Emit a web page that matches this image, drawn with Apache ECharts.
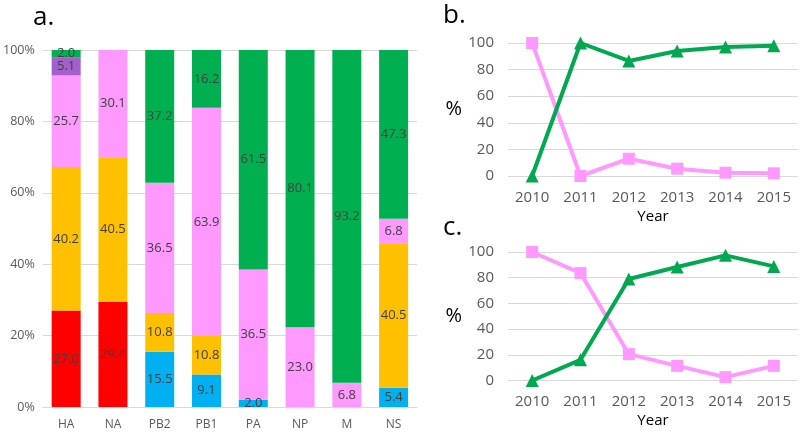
<!DOCTYPE html>
<html>
<head>
<meta charset="utf-8">
<script src="https://cdn.jsdelivr.net/npm/echarts@6/dist/echarts.min.js"></script>
<style>
  html, body { margin: 0; padding: 0; background: #fff; }
  #main { width: 800px; height: 433px; }
</style>
</head>
<body>
<div id="main"></div>
<script>
// panel a: segments, bottom to top
var genes = ['HA', 'NA', 'PB2', 'PB1', 'PA', 'NP', 'M', 'NS'];
var redVals    = [27.0, 29.4, null, null, null, null, null, null];
var blueVals   = [null, null, 15.5, 9.1, 2.0, null, null, 5.4];
var orangeVals = [40.2, 40.5, 10.8, 10.8, null, null, null, 40.5];
var pinkVals   = [25.7, 30.1, 36.5, 63.9, 36.5, 23.0, 6.8, 6.8];
var purpleVals = [5.1, null, null, null, null, null, null, null];
var greenVals  = [2.0, null, 37.2, 16.2, 61.5, 80.1, 93.2, 47.3];

// panels b and c
var years = ['2010', '2011', '2012', '2013', '2014', '2015'];
var bPink  = [100, 0, 13, 5.5, 2.5, 2];
var bGreen = [0, 100, 86.5, 94, 97, 98];
var cPink  = [100, 83.6, 20.5, 11.4, 2.6, 11.4];
var cGreen = [0, 16.1, 79, 88.3, 97.4, 88.8];

var segs = [
    {vals: redVals, color: '#FF0000'},
    {vals: blueVals, color: '#00B0F0'},
    {vals: orangeVals, color: '#FFC000'},
    {vals: pinkVals, color: '#FF99FF'},
    {vals: purpleVals, color: '#A35FCB'},
    {vals: greenVals, color: '#00B050'}
];

// totals for 100% stacking
var totals = genes.map(function (g, i) {
    var s = 0;
    segs.forEach(function (sg) { if (sg.vals[i] != null) s += sg.vals[i]; });
    return s;
});

var series = [];
segs.forEach(function (sg) {
    series.push({
        type: 'bar',
        stack: 'a',
        xAxisIndex: 0,
        yAxisIndex: 0,
        barWidth: 29,
        itemStyle: {color: sg.color},
        label: {
            show: true,
            position: 'inside',
            color: '#404040',
            fontSize: 13,
            fontFamily: 'Open Sans',
            formatter: function (p) { return p.data.raw.toFixed(1); }
        },
        data: sg.vals.map(function (v, i) {
            if (v == null) return {value: '-', raw: 0, label: {show: false}};
            return {value: v / totals[i] * 100, raw: v};
        })
    });
});

function lineSeries(vals, color, symbol, idx) {
    return {
        type: 'line',
        xAxisIndex: idx,
        yAxisIndex: idx,
        data: vals,
        symbol: symbol,
        symbolSize: symbol === 'rect' ? 12 : 13,
        lineStyle: {color: color, width: 4},
        itemStyle: {color: color},
        z: symbol === 'rect' ? 2 : 3
    };
}
series.push(lineSeries(bPink, '#FF99FF', 'rect', 1));
series.push(lineSeries(bGreen, '#00A84F', 'triangle', 1));
series.push(lineSeries(cPink, '#FF99FF', 'rect', 2));
series.push(lineSeries(cGreen, '#00A84F', 'triangle', 2));

var grayText = '#595959';
var gridLine = {lineStyle: {color: '#D9D9D9'}};

function yearAxis(idx) {
    return {
        type: 'category',
        gridIndex: idx,
        data: years,
        axisLine: {show: false},
        axisTick: {show: false},
        axisLabel: {color: grayText, fontSize: 15, fontFamily: 'Open Sans', margin: 14},
        name: 'Year',
        nameLocation: 'middle',
        nameGap: 33,
        nameTextStyle: {color: '#000', fontSize: 15, fontFamily: 'Open Sans'}
    };
}
function pctAxis(idx) {
    return {
        type: 'value',
        gridIndex: idx,
        min: 0, max: 100, interval: 20,
        axisLabel: {color: grayText, fontSize: 15, fontFamily: 'Open Sans', margin: 14},
        splitLine: gridLine,
        name: '%',
        nameLocation: 'middle',
        nameRotate: 0,
        nameGap: 46,
        nameTextStyle: {color: '#000', fontSize: 20, fontFamily: 'Open Sans'}
    };
}

var option = {
    animation: false,
    backgroundColor: '#fff',
    title: [
        {text: 'a.', left: 28, top: 0, textStyle: {fontSize: 26, fontWeight: 'normal', color: '#000', fontFamily: 'Open Sans'}},
        {text: 'b.', left: 438, top: -2, textStyle: {fontSize: 26, fontWeight: 'normal', color: '#000', fontFamily: 'Open Sans'}},
        {text: 'c.', left: 438, top: 210, textStyle: {fontSize: 26, fontWeight: 'normal', color: '#000', fontFamily: 'Open Sans'}}
    ],
    grid: [
        {left: 42, right: 383, top: 50, bottom: 26},
        {left: 508, right: 2, top: 43, height: 133},
        {left: 508, right: 2, top: 252, height: 128.5}
    ],
    xAxis: [
        {
            type: 'category',
            gridIndex: 0,
            data: genes,
            axisLine: {lineStyle: {color: '#D9D9D9'}},
            axisTick: {show: false},
            axisLabel: {color: grayText, fontSize: 12, fontFamily: 'Open Sans', margin: 12}
        },
        yearAxis(1),
        yearAxis(2)
    ],
    yAxis: [
        {
            type: 'value',
            gridIndex: 0,
            min: 0, max: 100, interval: 20,
            axisLabel: {color: grayText, fontSize: 12.5, fontFamily: 'Open Sans', margin: 8, formatter: '{value}%'},
            splitLine: gridLine
        },
        pctAxis(1),
        pctAxis(2)
    ],
    series: series
};

var myChart = echarts.init(document.getElementById('main'));
myChart.setOption(option);
</script>
</body>
</html>
